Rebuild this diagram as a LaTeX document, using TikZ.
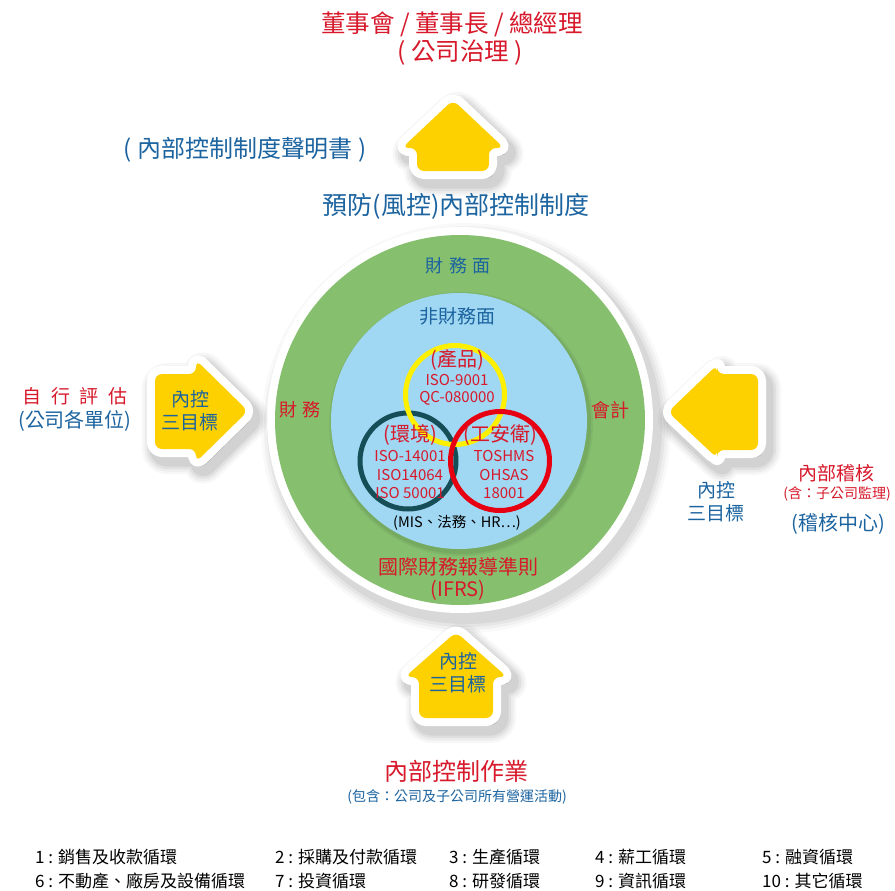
\documentclass[tikz,border=0pt]{standalone}
\usepackage{fontspec}
\setmainfont{Noto Sans CJK TC}
\definecolor{tred}{HTML}{D7192B}
\definecolor{tblue}{HTML}{1C64A0}
\definecolor{ygold}{HTML}{FDD000}
\definecolor{outgreen}{HTML}{86BF6E}
\definecolor{inblue}{HTML}{A0D7F2}
\definecolor{ringy}{HTML}{FFF000}
\definecolor{ringt}{HTML}{164E58}
\definecolor{ringr}{HTML}{E60012}
\newcommand\fs[2]{\fontsize{#1}{#2}\selectfont}
\tikzset{
  lbl/.style={inner sep=0pt, align=center},
  redtx/.style={lbl, text=tred},
  bluetx/.style={lbl, text=tblue},
  blacktx/.style={lbl, text=black},
  legend/.style={inner sep=0pt, anchor=west, text=black, font=\fs{17}{19}},
  ring/.style={line width=5pt},
}
\newcommand\yarrow[1]{%
  \foreach \w/\o in {36/0.03,31/0.04,26/0.05,21/0.06}{%
    \path[fill=black, draw=black, fill opacity=\o, draw opacity=\o,
      line width=\w pt, line join=round, rounded corners=7pt, shift={(5,7)}] #1;}%
  \path[fill=white, draw=white, line width=16pt, line join=round, rounded corners=7pt] #1;%
  \path[fill=ygold, rounded corners=7pt] #1;}
\begin{document}
\begin{tikzpicture}[x=1pt,y=-1pt]
\useasboundingbox (0,0) rectangle (895,891);
\fill[white] (0,0) rectangle (895,891);

% ---- big circle with soft shadow ----
\foreach \r/\o in {205/0.025,202/0.035,199/0.045,196/0.055}{%
  \fill[black, opacity=\o] (466,428) circle (\r pt);}
\fill[white] (460,420) circle (193pt);
\fill[outgreen] (460,420) circle (185pt);
\foreach \r/\o in {132/0.05,130/0.06}{%
  \fill[black, opacity=\o] (461,424) circle (\r pt);}
\fill[inblue] (459,421) circle (128pt);

% ---- rings ----
\draw[ring, ringt] (408,461) circle (48pt);
\draw[ring, ringy] (455,395) circle (49.5pt);
\draw[ring, ringr] (500,461) circle (49.5pt);

% ---- arrows ----
\yarrow{(453,100) -- (504,148) -- (489,148) -- (489,171) -- (417,171) -- (417,148) -- (402,148) -- cycle}
\yarrow{(456,632) -- (507,677) -- (493,677) -- (493,718) -- (419,718) -- (419,677) -- (405,677) -- cycle}
\yarrow{(248,411) -- (196,360) -- (196,374) -- (155,374) -- (155,449) -- (196,449) -- (196,462) -- cycle}
\yarrow{(668,412) -- (717,365) -- (717,374) -- (758,374) -- (758,450) -- (717,450) -- (717,458) -- cycle}

% ---- top texts ----
\node[redtx, font=\fs{24.5}{28}] (gov1) at (452,24) {董事會 / 董事長 / 總經理};
\node[redtx, font=\fs{24.5}{28}] (gov2) at (460,53) {( 公司治理 )};
\node[bluetx, font=\fs{24}{26}] (decl) at (245,150) {( 內部控制制度聲明書 )};
\node[bluetx, font=\fs{25}{27}] (prev) at (456,206) {預防(風控)內部控制制度};

% ---- circle texts ----
\node[bluetx, font=\fs{18}{20}] (fin) at (458,266) {財\hspace{0.3em}務\hspace{0.3em}面};
\node[bluetx, font=\fs{19}{20}] (nonfin) at (457,316) {非財務面};
\node[redtx, font=\fs{18}{20}] (finL) at (300,410) {財\hspace{0.3em}務};
\node[redtx, font=\fs{19}{20}] (acct) at (610,410) {會計};

\node[redtx, font=\fs{20}{20}] (prodT) at (457,360) {(產品)};
\node[redtx, font=\fs{15}{18}] (prod1) at (457,380) {ISO-9001};
\node[redtx, font=\fs{15}{18}] (prod2) at (457,398) {QC-080000};

\node[redtx, font=\fs{20}{20}] (envT) at (410,435) {(環境)};
\node[redtx, font=\fs{15}{18}] (env1) at (410,456) {ISO-14001};
\node[redtx, font=\fs{15}{18}] (env2) at (410,475) {ISO14064};
\node[redtx, font=\fs{15}{18}] (env3) at (410,493) {ISO 50001};

\node[redtx, font=\fs{20}{20}] (safT) at (500,435) {(工安衛)};
\node[redtx, font=\fs{15}{18}] (saf1) at (504,456) {TOSHMS};
\node[redtx, font=\fs{15}{18}] (saf2) at (504,475) {OHSAS};
\node[redtx, font=\fs{15}{18}] (saf3) at (504,493) {18001};

\node[blacktx, font=\fs{14.5}{16}] (mis) at (457,523) {(MIS、法務、HR…)};
\node[redtx, font=\fs{20}{22}] (ifrs1) at (458,567) {國際財務報導準則};
\node[redtx, font=\fs{20}{22}] (ifrs2) at (458,590) {(IFRS)};

% ---- arrow texts ----
\node[bluetx, font=\fs{19}{23}] (lat) at (190,411) {內控\\三目標};
\node[bluetx, font=\fs{19}{23}] (bat) at (458,673) {內控\\三目標};
\node[bluetx, font=\fs{19}{23}] (rat) at (716,502) {內控\\三目標};

% ---- side texts ----
\node[redtx, font=\fs{19}{22}] (self1) at (75,396) {自\hspace{0.5em}行\hspace{0.5em}評\hspace{0.5em}估};
\node[bluetx, font=\fs{20}{22}] (self2) at (75,421) {(公司各單位)};
\node[redtx, font=\fs{19}{22}] (aud1) at (836,473) {內部稽核};
\node[redtx, font=\fs{14}{16}] (aud2) at (837,494) {(含：子公司監理)};
\node[bluetx, font=\fs{20}{22}] (aud3) at (838,524) {(稽核中心)};

% ---- bottom texts ----
\node[redtx, font=\fs{24}{26}] (ops1) at (456,771) {內部控制作業};
\node[bluetx, font=\fs{14}{16}] (ops2) at (457,797) {(包含：公司及子公司所有營運活動)};

% ---- legend ----
\node[legend] (c1) at (35,857) {1 : 銷售及收款循環};
\node[legend] (c2) at (275,857) {2 : 採購及付款循環};
\node[legend] (c3) at (449,857) {3 : 生產循環};
\node[legend] (c4) at (595,857) {4 : 薪工循環};
\node[legend] (c5) at (762,857) {5 : 融資循環};
\node[legend] (c6) at (35,881) {6 : 不動產、廠房及設備循環};
\node[legend] (c7) at (275,881) {7 : 投資循環};
\node[legend] (c8) at (449,881) {8 : 研發循環};
\node[legend] (c9) at (595,881) {9 : 資訊循環};
\node[legend] (c10) at (762,881) {10 : 其它循環};
\end{tikzpicture}
\end{document}
